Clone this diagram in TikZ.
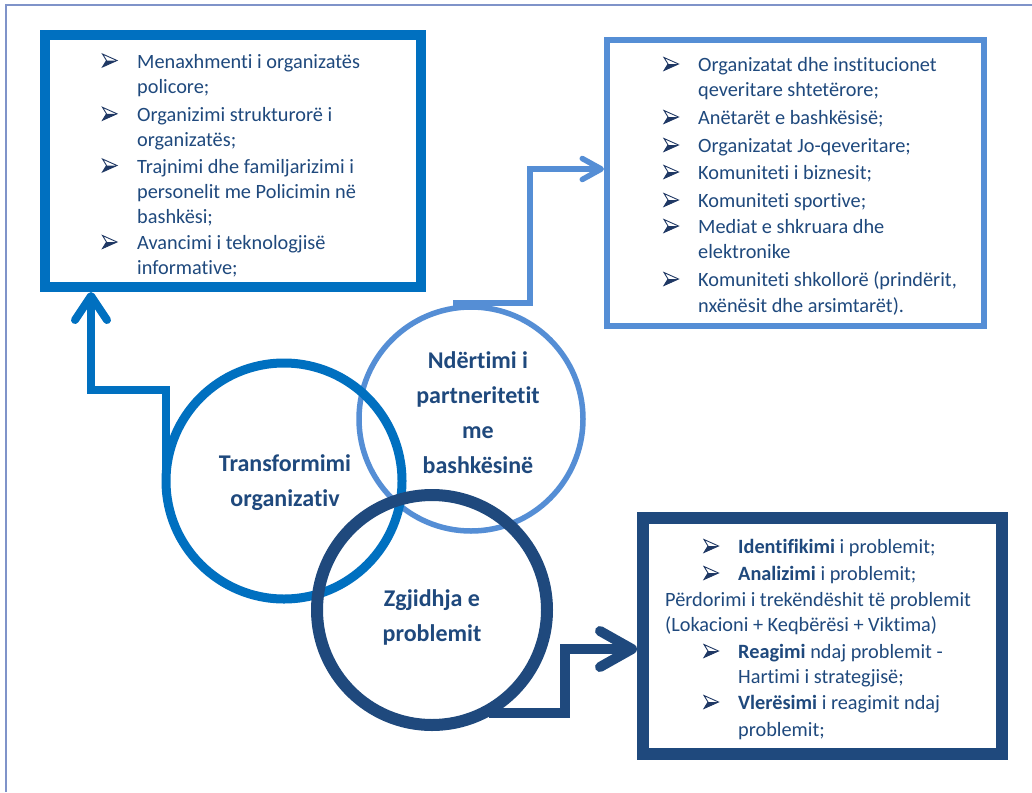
\documentclass[tikz,border=0pt]{standalone}
\usepackage{fontspec}
\setmainfont{Carlito}[Ligatures={NoCommon}]
\usetikzlibrary{arrows.meta}
\definecolor{cA}{HTML}{0070C0}
\definecolor{cB}{HTML}{558ED5}
\definecolor{cC}{HTML}{1F497D}
\definecolor{txt}{HTML}{1F497D}
\definecolor{bulc}{HTML}{1F3864}
\definecolor{framec}{HTML}{7F93C9}
\begin{document}
\begin{tikzpicture}[x=1pt,y=-1pt,
  txtline/.style={anchor=base west, inner sep=0pt, text=txt, font=\fontsize{20.3}{24}\selectfont},
  circtext/.style={align=center, inner sep=0pt, text=txt, font=\bfseries\fontsize{24}{35}\selectfont},
  boxA/.style={draw=cA, line width=10pt, minimum width=376.5pt, minimum height=252pt, inner sep=0pt},
  boxB/.style={draw=cB, line width=6pt, minimum width=377pt, minimum height=286pt, inner sep=0pt},
  boxC/.style={draw=cC, line width=12pt, minimum width=359pt, minimum height=236pt, inner sep=0pt},
  ringA/.style={circle, draw=cA, line width=9pt, minimum size=236pt, inner sep=0pt},
  ringB/.style={circle, draw=cB, line width=5.5pt, minimum size=224pt, inner sep=0pt},
  ringC/.style={circle, draw=cC, line width=12pt, minimum size=230pt, inner sep=0pt},
  linkA/.style={draw=cA, line width=8pt, -{Straight Barb[length=24pt,width=32pt,round]}},
  linkB/.style={draw=cB, line width=5.5pt, -{Straight Barb[length=19pt,width=21pt,round]}},
  linkC/.style={draw=cC, line width=10pt, -{Straight Barb[length=32pt,width=36pt,round]}},
  pics/arrbul/.style={code={
    \draw[bulc, line width=0.9pt, line join=miter] (-7,-6.5) -- (7.5,0) -- (-7,6.5) -- (-3,0) -- cycle;
    \fill[bulc] (-3,0) -- (7.5,0) -- (-7,6.5) -- cycle;
  }}
]
\useasboundingbox (0,0) rectangle (1032,792);
\fill[white] (0,0) rectangle (1032,792);
\draw[framec, line width=2pt] (6,792) -- (6,5) -- (1032,5);

% boxes
\node[boxA] (box1) at (232.75,161) {};
\node[boxB] (box2) at (795.5,183) {};
\node[boxC] (box3) at (822.5,636) {};

% circles
\node[ringB] (c2) at (471,419) {};
\node[ringA] (c1) at (284,481) {};
\node[ringC] (c3) at (432,610) {};

\node[circtext] (t1) at (285,483) {Transformimi\\organizativ};
\node[circtext] (t2) at (478,413) {Ndërtimi i\\partneritetit\\me\\bashkësinë};
\node[circtext] (t3) at (432,617) {Zgjidhja e\\problemit};

% connectors
\coordinate (p1) at (166,470);
\coordinate (k1) at (91,390);
\draw[linkA] (p1) |- (k1) -- (k1 |- box1.south);

\coordinate (p2) at (453,303);
\coordinate (k2) at (530,169);
\draw[linkB] (p2) -| (k2) -- (k2 -| box2.west);

\coordinate (p3) at (489,713);
\coordinate (k3) at (565,649);
\draw[linkC] (p3) -| (k3) -- (k3 -| box3.west);

% box 1 text
\foreach \n/\yy/\tx in {a1/61.7/{Menaxhmenti i organizatës}, a2/87.3/{policore;},
  a3/115/{Organizimi strukturorë i}, a4/140/{organizatës;},
  a5/166.7/{Trajnimi dhe familjarizimi i}, a6/191.7/{personelit me Policimin në}, a7/216.7/{bashkësi;},
  a8/243.3/{Avancimi i teknologjisë}, a9/268.3/{informative;}}
  \node[txtline] (l\n) at (137,\yy+6.5) {\tx};
\foreach \n/\yy in {a1/60.5, a3/113.8, a5/165.5, a8/242}
  \pic (m\n) at (109.5,\yy) {arrbul};

% box 2 text
\foreach \n/\yy/\tx in {b1/65/{Organizatat dhe institucionet}, b2/90/{qeveritare shtetërore;},
  b3/118/{Anëtarët e bashkësisë;}, b4/146/{Organizatat Jo-qeveritare;},
  b5/173/{Komuniteti i biznesit;}, b6/201/{Komuniteti sportive;},
  b7/227/{Mediat e shkruara dhe}, b8/252/{elektronike},
  b9/280/{Komuniteti shkollorë (prindërit,}, b10/306/{nxënësit dhe arsimtarët).}}
  \node[txtline] (l\n) at (698,\yy+6.5) {\tx};
\foreach \n/\yy in {b1/64, b3/117, b4/145, b5/172, b6/200, b7/226, b9/279}
  \pic (m\n) at (671,\yy) {arrbul};

% box 3 text
\foreach \n/\yy/\tx in {c1/547/{\textbf{Identifikimi} i problemit;}, c2/574/{\textbf{Analizimi} i problemit;},
  c5/652/{\textbf{Reagimi} ndaj problemit -}, c6/677/{Hartimi i strategjisë;},
  c7/703/{\textbf{Vlerësimi} i reagimit ndaj}, c8/730/{problemit;}}
  \node[txtline] (l\n) at (738,\yy+6.5) {\tx};
\node[txtline] (lc3) at (665,600+6.5) {Përdorimi i trekëndëshit të problemit};
\node[txtline] (lc4) at (665,625+6.5) {(Lokacioni + Keqbërësi + Viktima)};
\foreach \n/\yy in {c1/546, c2/573, c5/651, c7/702}
  \pic (m\n) at (711,\yy) {arrbul};
\end{tikzpicture}
\end{document}
